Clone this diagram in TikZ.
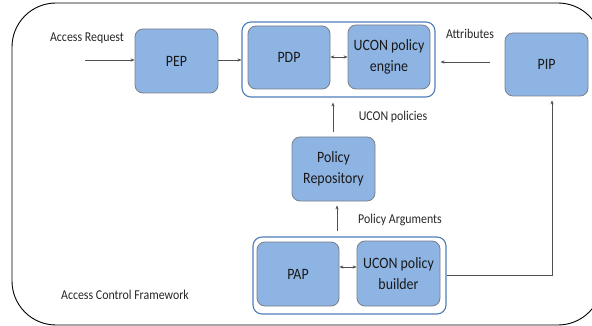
\documentclass[tikz,border=0pt]{standalone}
\usepackage{fontspec}
\setmainfont{Carlito}[FakeStretch=0.88]
\usetikzlibrary{arrows.meta}
\definecolor{boxfill}{HTML}{8EB4E3}
\definecolor{boxline}{HTML}{7A7F88}
\definecolor{contline}{HTML}{4F7DBA}
\definecolor{conn}{HTML}{505050}
\tikzset{
  blk/.style={draw=boxline, fill=boxfill, line width=0.8pt, rounded corners=8pt,
    align=center, inner sep=0pt, font={\fontsize{15.8}{21.5}\selectfont}, text=black!90},
  cont/.style={draw=contline, fill=white, line width=1.1pt, rounded corners=9pt, inner sep=0pt},
  lbl/.style={font={\fontsize{13.5}{16}\selectfont}, text=black!85, inner sep=0pt},
  conarrow/.style={draw=conn, line width=0.6pt, -{Stealth[length=4pt,width=3.2pt]}},
  conboth/.style={draw=conn, line width=0.6pt, {Stealth[length=4pt,width=3.2pt]}-{Stealth[length=4pt,width=3.2pt]}},
}
\begin{document}
\begin{tikzpicture}[x=1pt,y=-1pt]
\useasboundingbox (0,0) rectangle (592,326);
% outer frame
\draw[line width=0.9pt, rounded corners=44pt] (12,3) rectangle (602,325);
% containers
\node[cont, minimum width=193pt, minimum height=75pt] (PDPc) at (338.5,59.5) {};
\node[cont, minimum width=193pt, minimum height=77pt] (PAPc) at (349.5,275.5) {};
% boxes
\node[blk, minimum width=83pt, minimum height=64pt] (PEP) at (176.5,61) {PEP};
\node[blk, minimum width=82pt, minimum height=63pt] (PDP) at (289,57.5) {PDP};
\node[blk, minimum width=82pt, minimum height=64pt] (ENG) at (389,57) {UCON policy\\engine};
\node[blk, minimum width=83pt, minimum height=63pt] (PIP) at (546.5,64.5) {PIP};
\node[blk, minimum width=83pt, minimum height=64pt] (REP) at (333.5,169) {Policy\\Repository};
\node[blk, minimum width=82pt, minimum height=64pt] (PAP) at (298,274) {PAP};
\node[blk, minimum width=83pt, minimum height=65pt] (BLD) at (398.5,273.5) {UCON policy\\builder};
% labels
\node[lbl] (lAR) at (87,38) {Access Request};
\node[lbl] (lAT) at (470,34) {Attributes};
\node[lbl] (lUP) at (393,117) {UCON policies};
\node[lbl] (lPA) at (400,220) {Policy Arguments};
\node[lbl] (lACF) at (125,295) {Access Control Framework};
% connectors
\coordinate (ar) at (85,60);
\draw[conarrow] (ar) -- (ar -| PEP.west);
\draw[conarrow] (PEP.east |- ar) -- (ar -| PDPc.west);
\draw[conboth] (PDP.east |- 0,57) -- (ENG.west |- 0,57);
\coordinate (at) at (490,62);
\draw[conarrow, shorten >=5pt] (at) -- (at -| PDPc.east);
\coordinate (up) at (333,0);
\draw[conarrow, shorten <=5pt, shorten >=5pt] (up |- REP.north) -- (up |- PDPc.south);
\coordinate (pa) at (337,0);
\draw[conarrow, shorten <=5pt, shorten >=4pt] (pa |- PAPc.north) -- (pa |- REP.south);
\draw[conboth] (PAP.east |- 0,267) -- (BLD.west |- 0,267);
\coordinate (pp) at (552,275);
\draw[conarrow, shorten >=4pt] (PAPc.east |- pp) -- (pp) -- (pp |- PIP.south);
\end{tikzpicture}
\end{document}
